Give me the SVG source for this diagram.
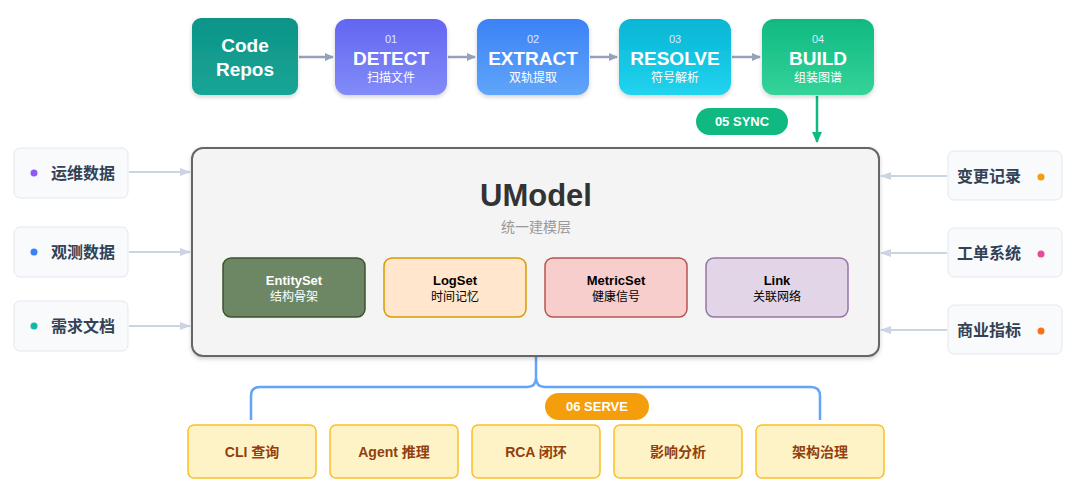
<svg xmlns="http://www.w3.org/2000/svg" width="1080" height="496" viewBox="0 0 1080 496">
<defs>
<linearGradient id="gCode" x1="0" y1="0" x2="0" y2="1"><stop offset="0" stop-color="#0f9488"/><stop offset="1" stop-color="#15a596"/></linearGradient>
<linearGradient id="gDet" x1="0" y1="0" x2="0" y2="1"><stop offset="0" stop-color="#6366f1"/><stop offset="1" stop-color="#818cf8"/></linearGradient>
<linearGradient id="gExt" x1="0" y1="0" x2="0" y2="1"><stop offset="0" stop-color="#3b82f6"/><stop offset="1" stop-color="#60a5fa"/></linearGradient>
<linearGradient id="gRes" x1="0" y1="0" x2="0" y2="1"><stop offset="0" stop-color="#06b6d4"/><stop offset="1" stop-color="#22d3ee"/></linearGradient>
<linearGradient id="gBld" x1="0" y1="0" x2="0" y2="1"><stop offset="0" stop-color="#10b981"/><stop offset="1" stop-color="#34d399"/></linearGradient>
<marker id="ag" markerWidth="10" markerHeight="10" refX="8" refY="5" orient="auto" markerUnits="userSpaceOnUse"><path d="M0,1 L9,5 L0,9 z" fill="#94a3b8"/></marker>
<marker id="al" markerWidth="12" markerHeight="10" refX="10" refY="5" orient="auto" markerUnits="userSpaceOnUse"><path d="M0,1 L11,5 L0,9 z" fill="#cbd5e1"/></marker>
<marker id="agr" markerWidth="12" markerHeight="12" refX="10" refY="6" orient="auto" markerUnits="userSpaceOnUse"><path d="M0,1 L11,6 L0,11 z" fill="#10b981"/></marker>
<filter id="sh" x="-10%" y="-10%" width="120%" height="130%"><feDropShadow dx="0" dy="2" stdDeviation="2" flood-opacity="0.18"/></filter>
</defs>
<style>
text{font-family:"Liberation Sans","Noto Sans CJK SC",sans-serif;text-anchor:middle}
.w{fill:#fff}
.big{font-size:19px;font-weight:bold}
.num{font-size:11px;fill:#dbeafe}
.sub{font-size:12px;fill:#fff}
.side{fill:#f8fafc;stroke:#e2e8f0;stroke-width:1}
.sideT{font-size:16px;font-weight:bold;fill:#334155}
.inT{font-size:13px;font-weight:bold}
.inS{font-size:12px}
.bot{fill:#fef3c7;stroke:#fbbf24;stroke-width:1.5}
.botT{font-size:14px;font-weight:bold;fill:#92400e}
</style>
<g id="connectors" fill="none">
<path d="M299,57 H333" stroke="#94a3b8" stroke-width="2.5" marker-end="url(#ag)"/>
<path d="M448,57 H475" stroke="#94a3b8" stroke-width="2.5" marker-end="url(#ag)"/>
<path d="M590,57 H617" stroke="#94a3b8" stroke-width="2.5" marker-end="url(#ag)"/>
<path d="M732,57 H760" stroke="#94a3b8" stroke-width="2.5" marker-end="url(#ag)"/>
<path d="M817,96 V142" stroke="#10b981" stroke-width="2.5" marker-end="url(#agr)"/>
<path d="M129,172 H190" stroke="#cbd5e1" stroke-width="2" marker-end="url(#al)"/>
<path d="M129,252 H190" stroke="#cbd5e1" stroke-width="2" marker-end="url(#al)"/>
<path d="M129,326 H190" stroke="#cbd5e1" stroke-width="2" marker-end="url(#al)"/>
<path d="M947,176 H881" stroke="#cbd5e1" stroke-width="2" marker-end="url(#al)"/>
<path d="M947,253 H881" stroke="#cbd5e1" stroke-width="2" marker-end="url(#al)"/>
<path d="M947,330 H881" stroke="#cbd5e1" stroke-width="2" marker-end="url(#al)"/>
<path d="M536,357 V378 Q536,387 527,387 H260 Q251,387 251,396 V420 M536,378 Q536,387 545,387 H811 Q820,387 820,396 V420" stroke="#60a5fa" stroke-width="2.5"/>
</g>
<g id="code"><rect x="192" y="18" width="106" height="77" rx="9" fill="url(#gCode)" filter="url(#sh)"/><text x="245" y="52" class="w big">Code</text><text x="245" y="76" class="w big">Repos</text></g>
<g id="detect"><rect x="335" y="19" width="112" height="76" rx="12" fill="url(#gDet)" filter="url(#sh)"/><text x="391" y="43" class="num">01</text><text x="391" y="65" class="w big">DETECT</text><text x="391" y="82" class="sub">扫描文件</text></g>
<g id="extract"><rect x="477" y="19" width="112" height="76" rx="12" fill="url(#gExt)" filter="url(#sh)"/><text x="533" y="43" class="num">02</text><text x="533" y="65" class="w big">EXTRACT</text><text x="533" y="82" class="sub">双轨提取</text></g>
<g id="resolve"><rect x="619" y="19" width="112" height="76" rx="12" fill="url(#gRes)" filter="url(#sh)"/><text x="675" y="43" class="num">03</text><text x="675" y="65" class="w big">RESOLVE</text><text x="675" y="82" class="sub">符号解析</text></g>
<g id="build"><rect x="762" y="19" width="112" height="76" rx="12" fill="url(#gBld)" filter="url(#sh)"/><text x="818" y="43" class="num">04</text><text x="818" y="65" class="w big">BUILD</text><text x="818" y="82" class="sub">组装图谱</text></g>
<g id="sync"><rect x="696" y="108" width="92" height="27" rx="13.5" fill="#10b981"/><text x="742" y="126" class="w" font-size="13" font-weight="bold">05 SYNC</text></g>
<g id="umodel"><rect x="192" y="148" width="687" height="208" rx="11" fill="#f4f4f5" stroke="#666" stroke-width="2" filter="url(#sh)"/>
<text x="536" y="206" font-size="31" font-weight="bold" fill="#333">UModel</text>
<text x="536" y="232" font-size="14" fill="#999">统一建模层</text></g>
<g id="entityset"><rect x="223" y="258" width="142" height="59" rx="8" fill="#6d8764" stroke="#3a5431" stroke-width="1.5"/><text x="294" y="285" class="inT w">EntitySet</text><text x="294" y="301" class="inS w">结构骨架</text></g>
<g id="logset"><rect x="384" y="258" width="142" height="59" rx="8" fill="#ffe6cc" stroke="#d79b00" stroke-width="1.5"/><text x="455" y="285" class="inT">LogSet</text><text x="455" y="301" class="inS">时间记忆</text></g>
<g id="metricset"><rect x="545" y="258" width="142" height="59" rx="8" fill="#f8cecc" stroke="#b85450" stroke-width="1.5"/><text x="616" y="285" class="inT">MetricSet</text><text x="616" y="301" class="inS">健康信号</text></g>
<g id="link"><rect x="706" y="258" width="142" height="59" rx="8" fill="#e1d5e7" stroke="#9673a6" stroke-width="1.5"/><text x="777" y="285" class="inT">Link</text><text x="777" y="301" class="inS">关联网络</text></g>
<g id="ops"><rect x="14" y="148" width="114" height="50" rx="6" class="side"/><circle cx="34" cy="173" r="3.5" fill="#8b5cf6"/><text x="83" y="179" class="sideT">运维数据</text></g>
<g id="obs"><rect x="14" y="227" width="114" height="50" rx="6" class="side"/><circle cx="34" cy="252" r="3.5" fill="#3b82f6"/><text x="83" y="258" class="sideT">观测数据</text></g>
<g id="req"><rect x="14" y="301" width="114" height="50" rx="6" class="side"/><circle cx="34" cy="326" r="3.5" fill="#14b8a6"/><text x="83" y="332" class="sideT">需求文档</text></g>
<g id="chg"><rect x="948" y="151" width="114" height="49" rx="6" class="side"/><circle cx="1041" cy="177" r="3.5" fill="#f59e0b"/><text x="989" y="182" class="sideT">变更记录</text></g>
<g id="tick"><rect x="948" y="228" width="114" height="49" rx="6" class="side"/><circle cx="1041" cy="254" r="3.5" fill="#ec4899"/><text x="989" y="259" class="sideT">工单系统</text></g>
<g id="biz"><rect x="948" y="305" width="114" height="49" rx="6" class="side"/><circle cx="1041" cy="331" r="3.5" fill="#f97316"/><text x="989" y="336" class="sideT">商业指标</text></g>
<g id="serve"><rect x="545" y="393" width="104" height="27" rx="13.5" fill="#f59e0b"/><text x="597" y="411" class="w" font-size="13" font-weight="bold">06 SERVE</text></g>
<g id="cli"><rect x="188" y="425" width="128" height="53" rx="6" class="bot"/><text x="252" y="457" class="botT">CLI 查询</text></g>
<g id="agent"><rect x="330" y="425" width="128" height="53" rx="6" class="bot"/><text x="394" y="457" class="botT">Agent 推理</text></g>
<g id="rca"><rect x="472" y="425" width="128" height="53" rx="6" class="bot"/><text x="536" y="457" class="botT">RCA 闭环</text></g>
<g id="impact"><rect x="614" y="425" width="128" height="53" rx="6" class="bot"/><text x="678" y="457" class="botT">影响分析</text></g>
<g id="arch"><rect x="756" y="425" width="128" height="53" rx="6" class="bot"/><text x="820" y="457" class="botT">架构治理</text></g>
</svg>
